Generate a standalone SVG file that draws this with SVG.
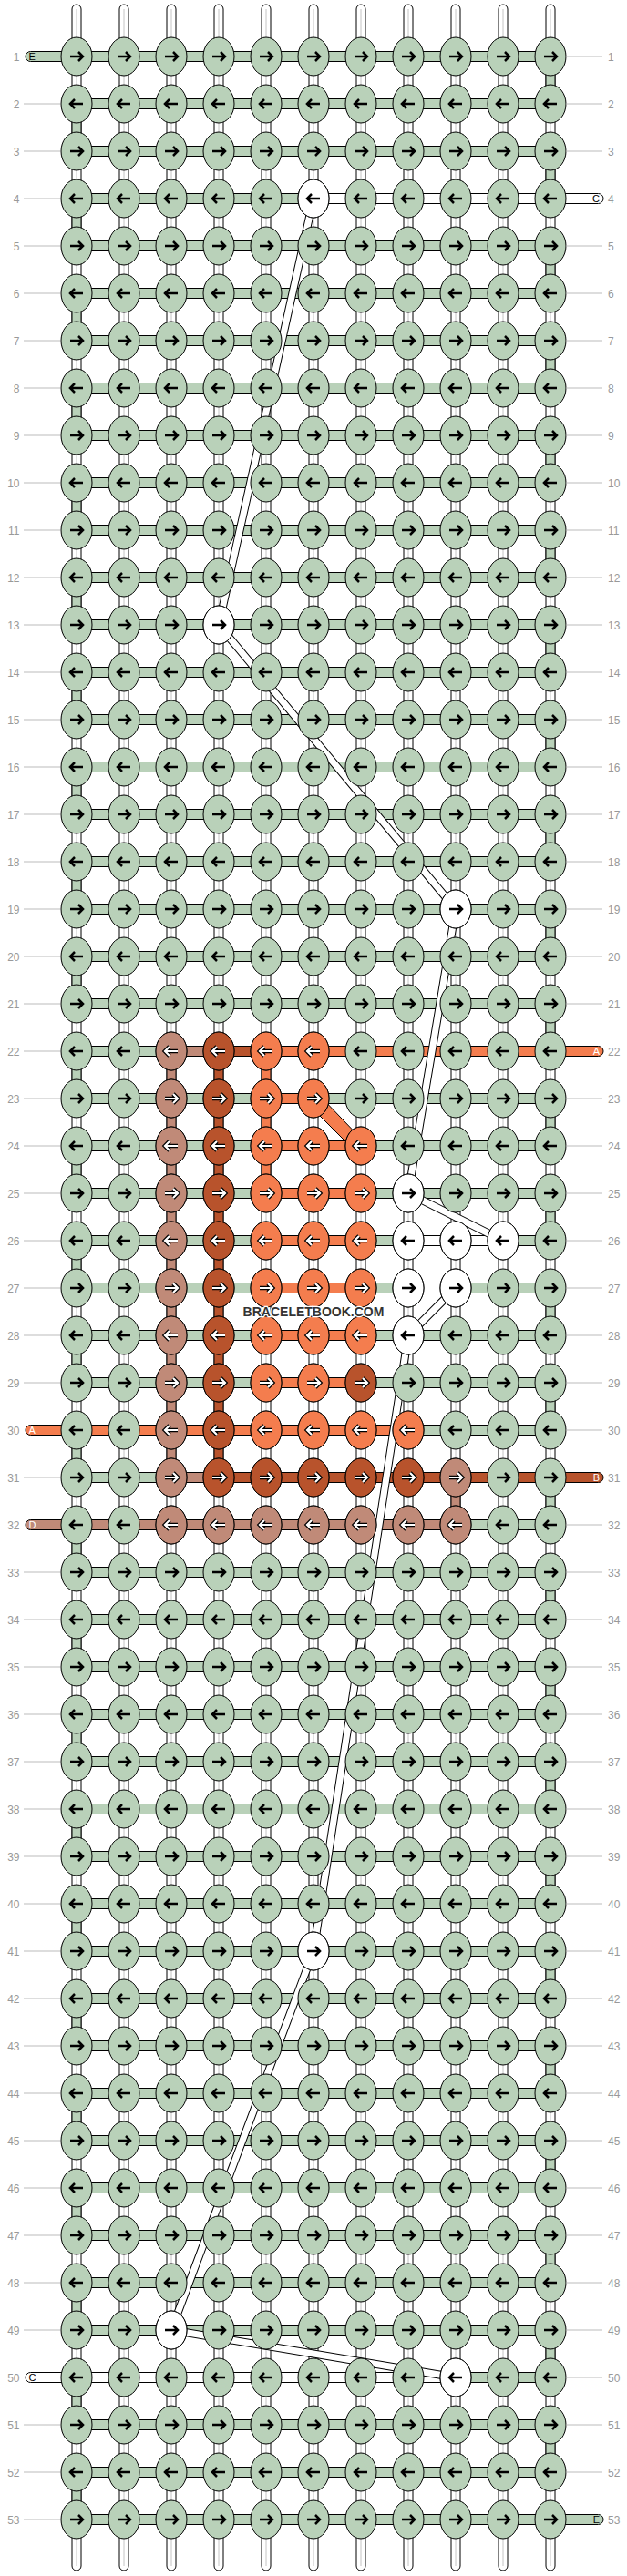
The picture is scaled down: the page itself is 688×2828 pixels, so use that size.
<svg xmlns="http://www.w3.org/2000/svg" xmlns:xlink="http://www.w3.org/1999/xlink" width="688" height="2828" viewBox="0 0 688 2828">
<style>
.lbl{font-family:"Liberation Sans",Arial,sans-serif;font-size:12px;fill:#999}
.sl{font-family:"Liberation Sans",Arial,sans-serif;font-size:11px}
.ll{stroke:#bbb;stroke-width:1;fill:none}
.s{stroke:#000;stroke-width:1}
.G{fill:#b9d1b9}.O{fill:#f47d4e}.D{fill:#b8532c}.L{fill:#c08a78}.W{fill:#fff}
.wm{font-family:"Liberation Sans",Arial,sans-serif;font-size:14px;font-weight:bold;fill:#333;stroke:#fff;stroke-width:2.5;paint-order:stroke}
</style>
<defs>
<path id="pR" d="M-7,0H7M2,-5L7,0L2,5" fill="none"/>
<path id="pL" d="M7,0H-7M-2,-5L-7,0L-2,5" fill="none"/>
<use id="aR" href="#pR" stroke="#000" stroke-width="2.5"/>
<use id="aL" href="#pL" stroke="#000" stroke-width="2.5"/>
<g id="bR"><use href="#pR" stroke="#000" stroke-width="4.6"/><use href="#pR" stroke="#fff" stroke-width="2.2"/></g>
<g id="bL"><use href="#pL" stroke="#000" stroke-width="4.6"/><use href="#pL" stroke="#fff" stroke-width="2.2"/></g>
<g id="gR"><ellipse rx="17" ry="21" class="G s"/><use href="#aR"/></g>
<g id="gL"><ellipse rx="17" ry="21" class="G s"/><use href="#aL"/></g>
<g id="wR"><ellipse rx="17" ry="21" class="W s"/><use href="#aR"/></g>
<g id="wL"><ellipse rx="17" ry="21" class="W s"/><use href="#aL"/></g>
<g id="oR"><ellipse rx="17" ry="21" class="O s"/><use href="#bR"/></g>
<g id="oL"><ellipse rx="17" ry="21" class="O s"/><use href="#bL"/></g>
<g id="dR"><ellipse rx="17" ry="21" class="D s"/><use href="#bR"/></g>
<g id="dL"><ellipse rx="17" ry="21" class="D s"/><use href="#bL"/></g>
<g id="lR"><ellipse rx="17" ry="21" class="L s"/><use href="#bR"/></g>
<g id="lL"><ellipse rx="17" ry="21" class="L s"/><use href="#bL"/></g>
<g id="rowR"><use href="#gR" x="84"/><use href="#gR" x="136"/><use href="#gR" x="188"/><use href="#gR" x="240"/><use href="#gR" x="292"/><use href="#gR" x="344"/><use href="#gR" x="396"/><use href="#gR" x="448"/><use href="#gR" x="500"/><use href="#gR" x="552"/><use href="#gR" x="604"/></g>
<g id="rowL"><use href="#gL" x="84"/><use href="#gL" x="136"/><use href="#gL" x="188"/><use href="#gL" x="240"/><use href="#gL" x="292"/><use href="#gL" x="344"/><use href="#gL" x="396"/><use href="#gL" x="448"/><use href="#gL" x="500"/><use href="#gL" x="552"/><use href="#gL" x="604"/></g>
<rect id="hb" x="84" y="-5.5" width="520" height="11" class="G s"/>
<rect id="vg" x="-5" y="0" width="10" height="52" class="G s"/>
<rect id="vo" x="-5" y="0" width="10" height="52" class="O s"/>
<rect id="vd" x="-5" y="0" width="10" height="52" class="D s"/>
<rect id="vl" x="-5" y="0" width="10" height="52" class="L s"/>
<g id="vt"><rect x="-5" y="5" width="10" height="2817" rx="5" class="W s"/><line x1="0" y1="10" x2="0" y2="2817" stroke="#c4c4c4"/></g>
<path id="fl" fill="none" d="M344,218L240,686L500,998L448,1310L552,1362M500,1414L448,1466L344,2142L188,2558L500,2610"/>
</defs>

<g id="strands">
<use href="#vt" x="84"/><use href="#vt" x="136"/><use href="#vt" x="188"/><use href="#vt" x="240"/><use href="#vt" x="292"/><use href="#vt" x="344"/><use href="#vt" x="396"/><use href="#vt" x="448"/><use href="#vt" x="500"/><use href="#vt" x="552"/><use href="#vt" x="604"/>
</g>

<g id="connectors">
<g id="turns">
<use href="#vg" x="604" y="62"/><use href="#vg" x="84" y="114"/><use href="#vg" x="604" y="166"/><use href="#vg" x="84" y="218"/><use href="#vg" x="604" y="270"/><use href="#vg" x="84" y="322"/><use href="#vg" x="604" y="374"/><use href="#vg" x="84" y="426"/><use href="#vg" x="604" y="478"/><use href="#vg" x="84" y="530"/><use href="#vg" x="604" y="582"/><use href="#vg" x="84" y="634"/><use href="#vg" x="604" y="686"/><use href="#vg" x="84" y="738"/><use href="#vg" x="604" y="790"/><use href="#vg" x="84" y="842"/><use href="#vg" x="604" y="894"/><use href="#vg" x="84" y="946"/><use href="#vg" x="604" y="998"/><use href="#vg" x="84" y="1050"/><use href="#vg" x="604" y="1102"/><use href="#vg" x="84" y="1154"/><use href="#vg" x="604" y="1206"/><use href="#vg" x="84" y="1258"/><use href="#vg" x="604" y="1310"/><use href="#vg" x="84" y="1362"/><use href="#vg" x="604" y="1414"/><use href="#vg" x="84" y="1466"/><use href="#vg" x="604" y="1518"/><use href="#vg" x="84" y="1570"/><use href="#vg" x="604" y="1622"/><use href="#vg" x="84" y="1674"/><use href="#vg" x="604" y="1726"/><use href="#vg" x="84" y="1778"/><use href="#vg" x="604" y="1830"/><use href="#vg" x="84" y="1882"/><use href="#vg" x="604" y="1934"/><use href="#vg" x="84" y="1986"/><use href="#vg" x="604" y="2038"/><use href="#vg" x="84" y="2090"/><use href="#vg" x="604" y="2142"/><use href="#vg" x="84" y="2194"/><use href="#vg" x="604" y="2246"/><use href="#vg" x="84" y="2298"/><use href="#vg" x="604" y="2350"/><use href="#vg" x="84" y="2402"/><use href="#vg" x="604" y="2454"/><use href="#vg" x="84" y="2506"/><use href="#vg" x="604" y="2558"/><use href="#vg" x="84" y="2610"/><use href="#vg" x="604" y="2662"/><use href="#vg" x="84" y="2714"/>
</g>
<g id="vcolor">
<use href="#vl" x="188" y="1154"/><use href="#vl" x="188" y="1206"/><use href="#vl" x="188" y="1258"/><use href="#vl" x="188" y="1310"/><use href="#vl" x="188" y="1362"/><use href="#vl" x="188" y="1414"/><use href="#vl" x="188" y="1466"/><use href="#vl" x="188" y="1518"/><use href="#vl" x="188" y="1570"/>
<use href="#vd" x="240" y="1154"/><use href="#vd" x="240" y="1206"/><use href="#vd" x="240" y="1258"/><use href="#vd" x="240" y="1310"/><use href="#vd" x="240" y="1362"/><use href="#vd" x="240" y="1414"/><use href="#vd" x="240" y="1466"/><use href="#vd" x="240" y="1518"/><use href="#vd" x="240" y="1570"/>
<use href="#vo" x="292" y="1154"/><use href="#vo" x="292" y="1206"/><use href="#vo" x="292" y="1258"/>
<use href="#vl" x="500" y="1622"/>
</g>
<g id="hbands">
<use href="#hb" y="62"/><use href="#hb" y="114"/><use href="#hb" y="166"/><use href="#hb" y="218"/><use href="#hb" y="270"/><use href="#hb" y="322"/><use href="#hb" y="374"/><use href="#hb" y="426"/><use href="#hb" y="478"/><use href="#hb" y="530"/><use href="#hb" y="582"/><use href="#hb" y="634"/><use href="#hb" y="686"/><use href="#hb" y="738"/><use href="#hb" y="790"/><use href="#hb" y="842"/><use href="#hb" y="894"/><use href="#hb" y="946"/><use href="#hb" y="998"/><use href="#hb" y="1050"/><use href="#hb" y="1102"/><use href="#hb" y="1154"/><use href="#hb" y="1206"/><use href="#hb" y="1258"/><use href="#hb" y="1310"/><use href="#hb" y="1362"/><use href="#hb" y="1414"/><use href="#hb" y="1466"/><use href="#hb" y="1518"/><use href="#hb" y="1570"/><use href="#hb" y="1622"/><use href="#hb" y="1674"/><use href="#hb" y="1726"/><use href="#hb" y="1778"/><use href="#hb" y="1830"/><use href="#hb" y="1882"/><use href="#hb" y="1934"/><use href="#hb" y="1986"/><use href="#hb" y="2038"/><use href="#hb" y="2090"/><use href="#hb" y="2142"/><use href="#hb" y="2194"/><use href="#hb" y="2246"/><use href="#hb" y="2298"/><use href="#hb" y="2350"/><use href="#hb" y="2402"/><use href="#hb" y="2454"/><use href="#hb" y="2506"/><use href="#hb" y="2558"/><use href="#hb" y="2610"/><use href="#hb" y="2662"/><use href="#hb" y="2714"/><use href="#hb" y="2766"/>
</g>
<g id="hcolor">
<path class="G s" d="M84,56.5H33.5A5.5,5.5 0 0 0 33.5,67.5H84Z"/>
<path class="W s" d="M344,212.5H656.5A5.5,5.5 0 0 1 656.5,223.5H344Z"/>
<rect class="L s" x="188" y="1148.5" width="52" height="11"/>
<rect class="D s" x="240" y="1148.5" width="52" height="11"/>
<path class="O s" d="M292,1148.5H656.5A5.5,5.5 0 0 1 656.5,1159.5H292Z"/>
<rect class="O s" x="292" y="1200.5" width="52" height="11"/>
<path class="O s" d="M338,1212L390,1264L400,1254L350,1202Z"/>
<rect class="O s" x="292" y="1252.5" width="104" height="11"/>
<rect class="O s" x="292" y="1304.5" width="104" height="11"/>
<rect class="O s" x="292" y="1356.5" width="104" height="11"/>
<rect class="W s" x="448" y="1356.5" width="104" height="11"/>
<rect class="O s" x="292" y="1408.5" width="104" height="11"/>
<rect class="W s" x="448" y="1408.5" width="52" height="11"/>
<rect class="O s" x="292" y="1460.5" width="104" height="11"/>
<rect class="O s" x="292" y="1512.5" width="104" height="11"/>
<path class="O s" d="M448,1564.5H33.5A5.5,5.5 0 0 0 33.5,1575.5H448Z"/>
<rect class="L s" x="188" y="1616.5" width="52" height="11"/>
<path class="D s" d="M240,1616.5H656.5A5.5,5.5 0 0 1 656.5,1627.5H240Z"/>
<path class="L s" d="M500,1668.5H33.5A5.5,5.5 0 0 0 33.5,1679.5H500Z"/>
<path class="W s" d="M500,2604.5H33.5A5.5,5.5 0 0 0 33.5,2615.5H500Z"/>
<path class="G s" d="M604,2760.5H656.5A5.5,5.5 0 0 1 656.5,2771.5H604Z"/>
</g>
<g id="floats">
<use href="#fl" stroke="#000" stroke-width="9"/>
<use href="#fl" stroke="#fff" stroke-width="7"/>
</g>
</g>

<g id="knots">
<use id="r1" href="#rowR" y="62"/><use id="r2" href="#rowL" y="114"/><use id="r3" href="#rowR" y="166"/><use id="r4" href="#rowL" y="218"/><use id="r5" href="#rowR" y="270"/><use id="r6" href="#rowL" y="322"/><use id="r7" href="#rowR" y="374"/><use id="r8" href="#rowL" y="426"/><use id="r9" href="#rowR" y="478"/><use id="r10" href="#rowL" y="530"/><use id="r11" href="#rowR" y="582"/><use id="r12" href="#rowL" y="634"/><use id="r13" href="#rowR" y="686"/><use id="r14" href="#rowL" y="738"/><use id="r15" href="#rowR" y="790"/><use id="r16" href="#rowL" y="842"/><use id="r17" href="#rowR" y="894"/><use id="r18" href="#rowL" y="946"/><use id="r19" href="#rowR" y="998"/><use id="r20" href="#rowL" y="1050"/><use id="r21" href="#rowR" y="1102"/><use id="r22" href="#rowL" y="1154"/><use id="r23" href="#rowR" y="1206"/><use id="r24" href="#rowL" y="1258"/><use id="r25" href="#rowR" y="1310"/><use id="r26" href="#rowL" y="1362"/><use id="r27" href="#rowR" y="1414"/><use id="r28" href="#rowL" y="1466"/><use id="r29" href="#rowR" y="1518"/><use id="r30" href="#rowL" y="1570"/><use id="r31" href="#rowR" y="1622"/><use id="r32" href="#rowL" y="1674"/><use id="r33" href="#rowR" y="1726"/><use id="r34" href="#rowL" y="1778"/><use id="r35" href="#rowR" y="1830"/><use id="r36" href="#rowL" y="1882"/><use id="r37" href="#rowR" y="1934"/><use id="r38" href="#rowL" y="1986"/><use id="r39" href="#rowR" y="2038"/><use id="r40" href="#rowL" y="2090"/><use id="r41" href="#rowR" y="2142"/><use id="r42" href="#rowL" y="2194"/><use id="r43" href="#rowR" y="2246"/><use id="r44" href="#rowL" y="2298"/><use id="r45" href="#rowR" y="2350"/><use id="r46" href="#rowL" y="2402"/><use id="r47" href="#rowR" y="2454"/><use id="r48" href="#rowL" y="2506"/><use id="r49" href="#rowR" y="2558"/><use id="r50" href="#rowL" y="2610"/><use id="r51" href="#rowR" y="2662"/><use id="r52" href="#rowL" y="2714"/><use id="r53" href="#rowR" y="2766"/>
</g>
<g id="special">
<use href="#wL" x="344" y="218"/>
<use href="#wR" x="240" y="686"/>
<use href="#wR" x="500" y="998"/>
<use href="#lL" x="188" y="1154"/><use href="#dL" x="240" y="1154"/><use href="#oL" x="292" y="1154"/><use href="#oL" x="344" y="1154"/>
<use href="#lR" x="188" y="1206"/><use href="#dR" x="240" y="1206"/><use href="#oR" x="292" y="1206"/><use href="#oR" x="344" y="1206"/>
<use href="#lL" x="188" y="1258"/><use href="#dL" x="240" y="1258"/><use href="#oL" x="292" y="1258"/><use href="#oL" x="344" y="1258"/><use href="#oL" x="396" y="1258"/>
<use href="#lR" x="188" y="1310"/><use href="#dR" x="240" y="1310"/><use href="#oR" x="292" y="1310"/><use href="#oR" x="344" y="1310"/><use href="#oR" x="396" y="1310"/><use href="#wR" x="448" y="1310"/>
<use href="#lL" x="188" y="1362"/><use href="#dL" x="240" y="1362"/><use href="#oL" x="292" y="1362"/><use href="#oL" x="344" y="1362"/><use href="#oL" x="396" y="1362"/><use href="#wL" x="448" y="1362"/><use href="#wL" x="500" y="1362"/><use href="#wL" x="552" y="1362"/>
<use href="#lR" x="188" y="1414"/><use href="#dR" x="240" y="1414"/><use href="#oR" x="292" y="1414"/><use href="#oR" x="344" y="1414"/><use href="#oR" x="396" y="1414"/><use href="#wR" x="448" y="1414"/><use href="#wR" x="500" y="1414"/>
<use href="#lL" x="188" y="1466"/><use href="#dL" x="240" y="1466"/><use href="#oL" x="292" y="1466"/><use href="#oL" x="344" y="1466"/><use href="#oL" x="396" y="1466"/><use href="#wL" x="448" y="1466"/>
<use href="#lR" x="188" y="1518"/><use href="#dR" x="240" y="1518"/><use href="#oR" x="292" y="1518"/><use href="#oR" x="344" y="1518"/><use href="#dR" x="396" y="1518"/>
<use href="#lL" x="188" y="1570"/><use href="#dL" x="240" y="1570"/><use href="#oL" x="292" y="1570"/><use href="#oL" x="344" y="1570"/><use href="#oL" x="396" y="1570"/><use href="#oL" x="448" y="1570"/>
<use href="#lR" x="188" y="1622"/><use href="#dR" x="240" y="1622"/><use href="#dR" x="292" y="1622"/><use href="#dR" x="344" y="1622"/><use href="#dR" x="396" y="1622"/><use href="#dR" x="448" y="1622"/><use href="#lR" x="500" y="1622"/>
<use href="#lL" x="188" y="1674"/><use href="#lL" x="240" y="1674"/><use href="#lL" x="292" y="1674"/><use href="#lL" x="344" y="1674"/><use href="#lL" x="396" y="1674"/><use href="#lL" x="448" y="1674"/><use href="#lL" x="500" y="1674"/>
<use href="#wR" x="344" y="2142"/>
<use href="#wR" x="188" y="2558"/>
<use href="#wL" x="500" y="2610"/>
</g>

<g id="labels">
<path class="ll" d="M621,62H661M26,114H66M621,114H661M26,166H66M621,166H661M26,218H66M26,270H66M621,270H661M26,322H66M621,322H661M26,374H66M621,374H661M26,426H66M621,426H661M26,478H66M621,478H661M26,530H66M621,530H661M26,582H66M621,582H661M26,634H66M621,634H661M26,686H66M621,686H661M26,738H66M621,738H661M26,790H66M621,790H661M26,842H66M621,842H661M26,894H66M621,894H661M26,946H66M621,946H661M26,998H66M621,998H661M26,1050H66M621,1050H661M26,1102H66M621,1102H661M26,1154H66M26,1206H66M621,1206H661M26,1258H66M621,1258H661M26,1310H66M621,1310H661M26,1362H66M621,1362H661M26,1414H66M621,1414H661M26,1466H66M621,1466H661M26,1518H66M621,1518H661M621,1570H661M26,1622H66M621,1674H661M26,1726H66M621,1726H661M26,1778H66M621,1778H661M26,1830H66M621,1830H661M26,1882H66M621,1882H661M26,1934H66M621,1934H661M26,1986H66M621,1986H661M26,2038H66M621,2038H661M26,2090H66M621,2090H661M26,2142H66M621,2142H661M26,2194H66M621,2194H661M26,2246H66M621,2246H661M26,2298H66M621,2298H661M26,2350H66M621,2350H661M26,2402H66M621,2402H661M26,2454H66M621,2454H661M26,2506H66M621,2506H661M26,2558H66M621,2558H661M621,2610H661M26,2662H66M621,2662H661M26,2714H66M621,2714H661M26,2766H66"/>
<g class="lbl" text-anchor="end">
<text x="21.5" y="66.5">1</text><text x="21.5" y="118.5">2</text><text x="21.5" y="170.5">3</text><text x="21.5" y="222.5">4</text><text x="21.5" y="274.5">5</text><text x="21.5" y="326.5">6</text><text x="21.5" y="378.5">7</text><text x="21.5" y="430.5">8</text><text x="21.5" y="482.5">9</text><text x="21.5" y="534.5">10</text><text x="21.5" y="586.5">11</text><text x="21.5" y="638.5">12</text><text x="21.5" y="690.5">13</text><text x="21.5" y="742.5">14</text><text x="21.5" y="794.5">15</text><text x="21.5" y="846.5">16</text><text x="21.5" y="898.5">17</text><text x="21.5" y="950.5">18</text><text x="21.5" y="1002.5">19</text><text x="21.5" y="1054.5">20</text><text x="21.5" y="1106.5">21</text><text x="21.5" y="1158.5">22</text><text x="21.5" y="1210.5">23</text><text x="21.5" y="1262.5">24</text><text x="21.5" y="1314.5">25</text><text x="21.5" y="1366.5">26</text><text x="21.5" y="1418.5">27</text><text x="21.5" y="1470.5">28</text><text x="21.5" y="1522.5">29</text><text x="21.5" y="1574.5">30</text><text x="21.5" y="1626.5">31</text><text x="21.5" y="1678.5">32</text><text x="21.5" y="1730.5">33</text><text x="21.5" y="1782.5">34</text><text x="21.5" y="1834.5">35</text><text x="21.5" y="1886.5">36</text><text x="21.5" y="1938.5">37</text><text x="21.5" y="1990.5">38</text><text x="21.5" y="2042.5">39</text><text x="21.5" y="2094.5">40</text><text x="21.5" y="2146.5">41</text><text x="21.5" y="2198.5">42</text><text x="21.5" y="2250.5">43</text><text x="21.5" y="2302.5">44</text><text x="21.5" y="2354.5">45</text><text x="21.5" y="2406.5">46</text><text x="21.5" y="2458.5">47</text><text x="21.5" y="2510.5">48</text><text x="21.5" y="2562.5">49</text><text x="21.5" y="2614.5">50</text><text x="21.5" y="2666.5">51</text><text x="21.5" y="2718.5">52</text><text x="21.5" y="2770.5">53</text>
</g>
<g class="lbl">
<text x="667" y="66.5">1</text><text x="667" y="118.5">2</text><text x="667" y="170.5">3</text><text x="667" y="222.5">4</text><text x="667" y="274.5">5</text><text x="667" y="326.5">6</text><text x="667" y="378.5">7</text><text x="667" y="430.5">8</text><text x="667" y="482.5">9</text><text x="667" y="534.5">10</text><text x="667" y="586.5">11</text><text x="667" y="638.5">12</text><text x="667" y="690.5">13</text><text x="667" y="742.5">14</text><text x="667" y="794.5">15</text><text x="667" y="846.5">16</text><text x="667" y="898.5">17</text><text x="667" y="950.5">18</text><text x="667" y="1002.5">19</text><text x="667" y="1054.5">20</text><text x="667" y="1106.5">21</text><text x="667" y="1158.5">22</text><text x="667" y="1210.5">23</text><text x="667" y="1262.5">24</text><text x="667" y="1314.5">25</text><text x="667" y="1366.5">26</text><text x="667" y="1418.5">27</text><text x="667" y="1470.5">28</text><text x="667" y="1522.5">29</text><text x="667" y="1574.5">30</text><text x="667" y="1626.5">31</text><text x="667" y="1678.5">32</text><text x="667" y="1730.5">33</text><text x="667" y="1782.5">34</text><text x="667" y="1834.5">35</text><text x="667" y="1886.5">36</text><text x="667" y="1938.5">37</text><text x="667" y="1990.5">38</text><text x="667" y="2042.5">39</text><text x="667" y="2094.5">40</text><text x="667" y="2146.5">41</text><text x="667" y="2198.5">42</text><text x="667" y="2250.5">43</text><text x="667" y="2302.5">44</text><text x="667" y="2354.5">45</text><text x="667" y="2406.5">46</text><text x="667" y="2458.5">47</text><text x="667" y="2510.5">48</text><text x="667" y="2562.5">49</text><text x="667" y="2614.5">50</text><text x="667" y="2666.5">51</text><text x="667" y="2718.5">52</text><text x="667" y="2770.5">53</text>
</g>
<g class="sl">
<text x="31.5" y="66">E</text>
<text x="658" y="222" text-anchor="end">C</text>
<text x="658" y="1158" text-anchor="end" fill="#fff">A</text>
<text x="31.5" y="1574" fill="#fff">A</text>
<text x="658" y="1626" text-anchor="end" fill="#fff">B</text>
<text x="31.5" y="1678" fill="#fff">D</text>
<text x="31.5" y="2614">C</text>
<text x="658" y="2770" text-anchor="end">E</text>
</g>
</g>
<text class="wm" x="344" y="1445" text-anchor="middle">BRACELETBOOK.COM</text>
</svg>
